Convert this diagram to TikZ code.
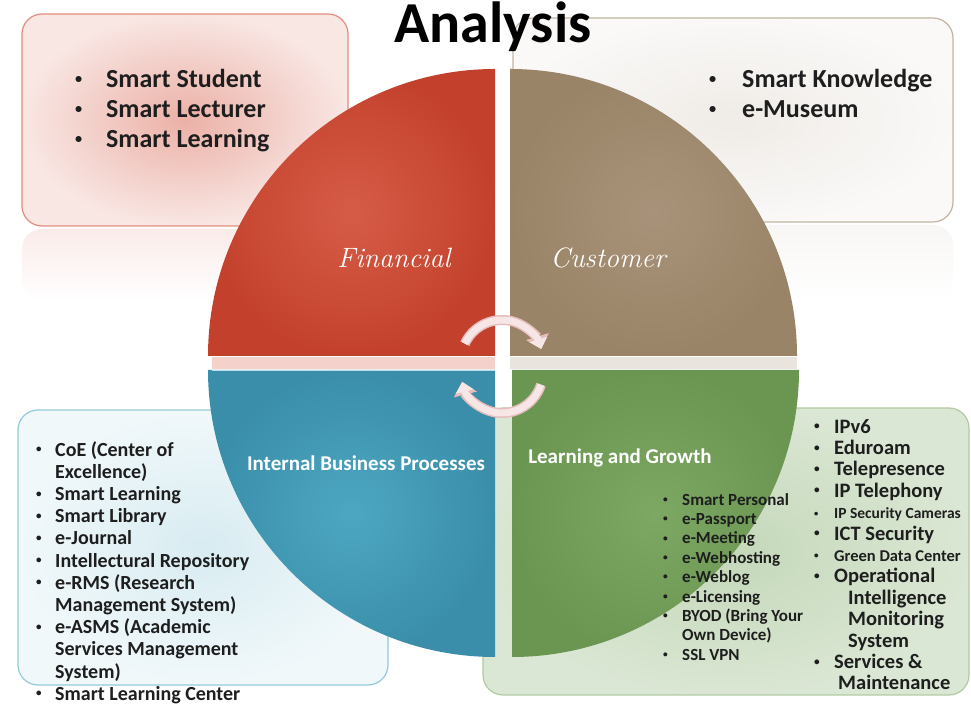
\documentclass[tikz,border=0pt]{standalone}
\usepackage{fontspec}
\setsansfont{Carlito}
\usepackage{xcolor}
\usepackage{graphicx}
\usepackage{tikz}
\usetikzlibrary{arrows.meta}
\usetikzlibrary{positioning}
\tikzset{>=latex}

\definecolor{finin}{HTML}{D65C47}
\definecolor{finout}{HTML}{C3412C}
\definecolor{cusin}{HTML}{A8937A}
\definecolor{cusout}{HTML}{9A8467}
\definecolor{ibpin}{HTML}{4DA7C2}
\definecolor{ibpout}{HTML}{3A8EA9}
\definecolor{lgin}{HTML}{7CA864}
\definecolor{lgout}{HTML}{6A9652}
\definecolor{txt}{HTML}{1E1E1E}
\definecolor{arrfill}{HTML}{F7E6E6}
\definecolor{arredge}{HTML}{E6BCBC}

\tikzstyle{box} = [line width=1.2pt, rounded corners=20pt]
\tikzstyle{lbl} = [font=\rmfamily\itshape\fontsize{28}{32}\selectfont, text=white]
\tikzstyle{hdr} = [font=\sffamily\bfseries\fontsize{21}{24}\selectfont, text=white]
\tikzstyle{lst} = [anchor=north west, inner sep=0pt, align=left, text=txt]
\tikzstyle{turn} = [line width=10pt, draw=arredge, -{Triangle[width=23pt, length=13pt]}]
\tikzstyle{turnin} = [line width=7pt, draw=arrfill, -{Triangle[width=18pt, length=10pt]}]
\newcommand{\itm}[2][30pt]{\makebox[#1][l]{\raisebox{0.17em}{\scalebox{0.55}{\textbullet}}}#2}

\begin{document}
\begin{tikzpicture}[x=1pt, y=1pt]
\useasboundingbox (0, 0) rectangle (971, 719);
\fill [white] (0, 0) rectangle (971, 719);

\shade [top color=finin!12!white, bottom color=white, rounded corners=20pt] (22, 419) rectangle (348, 490);
\shade [top color=cusin!8!white, bottom color=white, rounded corners=20pt] (513, 419) rectangle (953, 494);
\shade [box, draw=finin!70!white, inner color=finin!48!white, outer color=finin!15!white] (22, 493) rectangle (348, 705);
\shade [box, draw=cusin!70!white, inner color=cusin!18!white, outer color=cusin!6!white] (513, 497) rectangle (953, 701);
\shade [box, draw=ibpin!60!white, inner color=ibpin!22!white, outer color=ibpin!8!white] (18, 34) rectangle (388, 309);
\shade [box, draw=lgin!60!white, inner color=lgin!45!white, outer color=lgin!28!white] (483, 24) rectangle (969, 311);

\fill [finin!28!white] (212, 350) rectangle (495, 362);
\fill [cusin!25!white] (510, 350) rectangle (797, 362);
\shade [inner color=finin, outer color=finout] (495, 363) -- (208, 363) arc [start angle=180, end angle=90, radius=287] -- cycle;
\shade [inner color=cusin, outer color=cusout] (510, 363) -- (510, 650) arc [start angle=90, end angle=0, radius=287] -- cycle;
\shade [inner color=ibpin, outer color=ibpout] (495, 349) -- (208, 349) arc [start angle=180, end angle=270, radius=287] -- cycle;
\shade [inner color=lgin, outer color=lgout] (512, 349) -- (799, 349) arc [start angle=0, end angle=-90, radius=287] -- cycle;
\draw [ibpin!40!white, line width=1pt] (212, 348.5) -- (495, 348.5);

\draw [turn] (502, 358) ++(155:41) arc [start angle=155, end angle=17, radius=41];
\draw [turnin] (502, 358) ++(155:41) arc [start angle=155, end angle=17, radius=41];
\draw [turn] (502, 347) ++(-18:41) arc [start angle=-18, end angle=-166, radius=41];
\draw [turnin] (502, 347) ++(-18:41) arc [start angle=-18, end angle=-166, radius=41];

\node [anchor=base, inner sep=0pt, font=\sffamily\bfseries\fontsize{58}{64}\selectfont] (Title) at (493, 676) {Analysis};

\node [lbl] (Fin) at (394, 461) {Financial};
\node [lbl] (Cus) at (608, 461) {Customer};
\node [hdr] (IBP) at (366, 256) {Internal Business Processes};
\node [hdr] (LG) at (620, 261) {Learning and Growth};

\node [lst, font=\sffamily\bfseries\fontsize{26}{30}\selectfont] (FinList) at (75, 650) {\itm[31pt]{Smart Student}\\ \itm[31pt]{Smart Lecturer}\\ \itm[31pt]{Smart Learning}};
\node [lst, font=\sffamily\bfseries\fontsize{26}{30}\selectfont] (CusList) at (709, 650) {\itm[33pt]{Smart Knowledge}\\ \itm[33pt]{e-Museum}};
\node [lst, font=\sffamily\bfseries\fontsize{20}{22.2}\selectfont] (IBPList) at (36, 278) {\itm[19pt]{CoE (Center of}\\ \hspace*{19pt}Excellence)\\ \itm[19pt]{Smart Learning}\\ \itm[19pt]{Smart Library}\\ \itm[19pt]{e-Journal}\\ \itm[19pt]{Intellectural Repository}\\ \itm[19pt]{e-RMS (Research}\\ \hspace*{19pt}Management System)\\ \itm[19pt]{e-ASMS (Academic}\\ \hspace*{19pt}Services Management\\ \hspace*{19pt}System)\\ \itm[19pt]{Smart Learning Center}};
\node [lst, font=\sffamily\bfseries\fontsize{17}{19.4}\selectfont] (LGList) at (663, 226) {\itm[19pt]{Smart Personal}\\ \itm[19pt]{e-Passport}\\ \itm[19pt]{e-Meeting}\\ \itm[19pt]{e-Webhosting}\\ \itm[19pt]{e-Weblog}\\ \itm[19pt]{e-Licensing}\\ \itm[19pt]{BYOD (Bring Your}\\ \hspace*{19pt}Own Device)\\ \itm[19pt]{SSL VPN}};
\node [lst, font=\sffamily\bfseries\fontsize{20.5}{21.4}\selectfont] (NetList) at (814, 300) {\itm[20pt]{IPv6}\\ \itm[20pt]{Eduroam}\\ \itm[20pt]{Telepresence}\\ \itm[20pt]{IP Telephony}\\ {\fontsize{15.5}{21.4}\selectfont\itm[20pt]{IP Security Cameras}}\\ \itm[20pt]{ICT Security}\\ {\fontsize{16.5}{21.4}\selectfont\itm[20pt]{Green Data Center}}\\ \itm[20pt]{Operational}\\ \hspace*{34pt}Intelligence\\ \hspace*{34pt}Monitoring\\ \hspace*{34pt}System\\ \itm[20pt]{Services \&}\\ \hspace*{24pt}Maintenance};
\end{tikzpicture}
\end{document}
